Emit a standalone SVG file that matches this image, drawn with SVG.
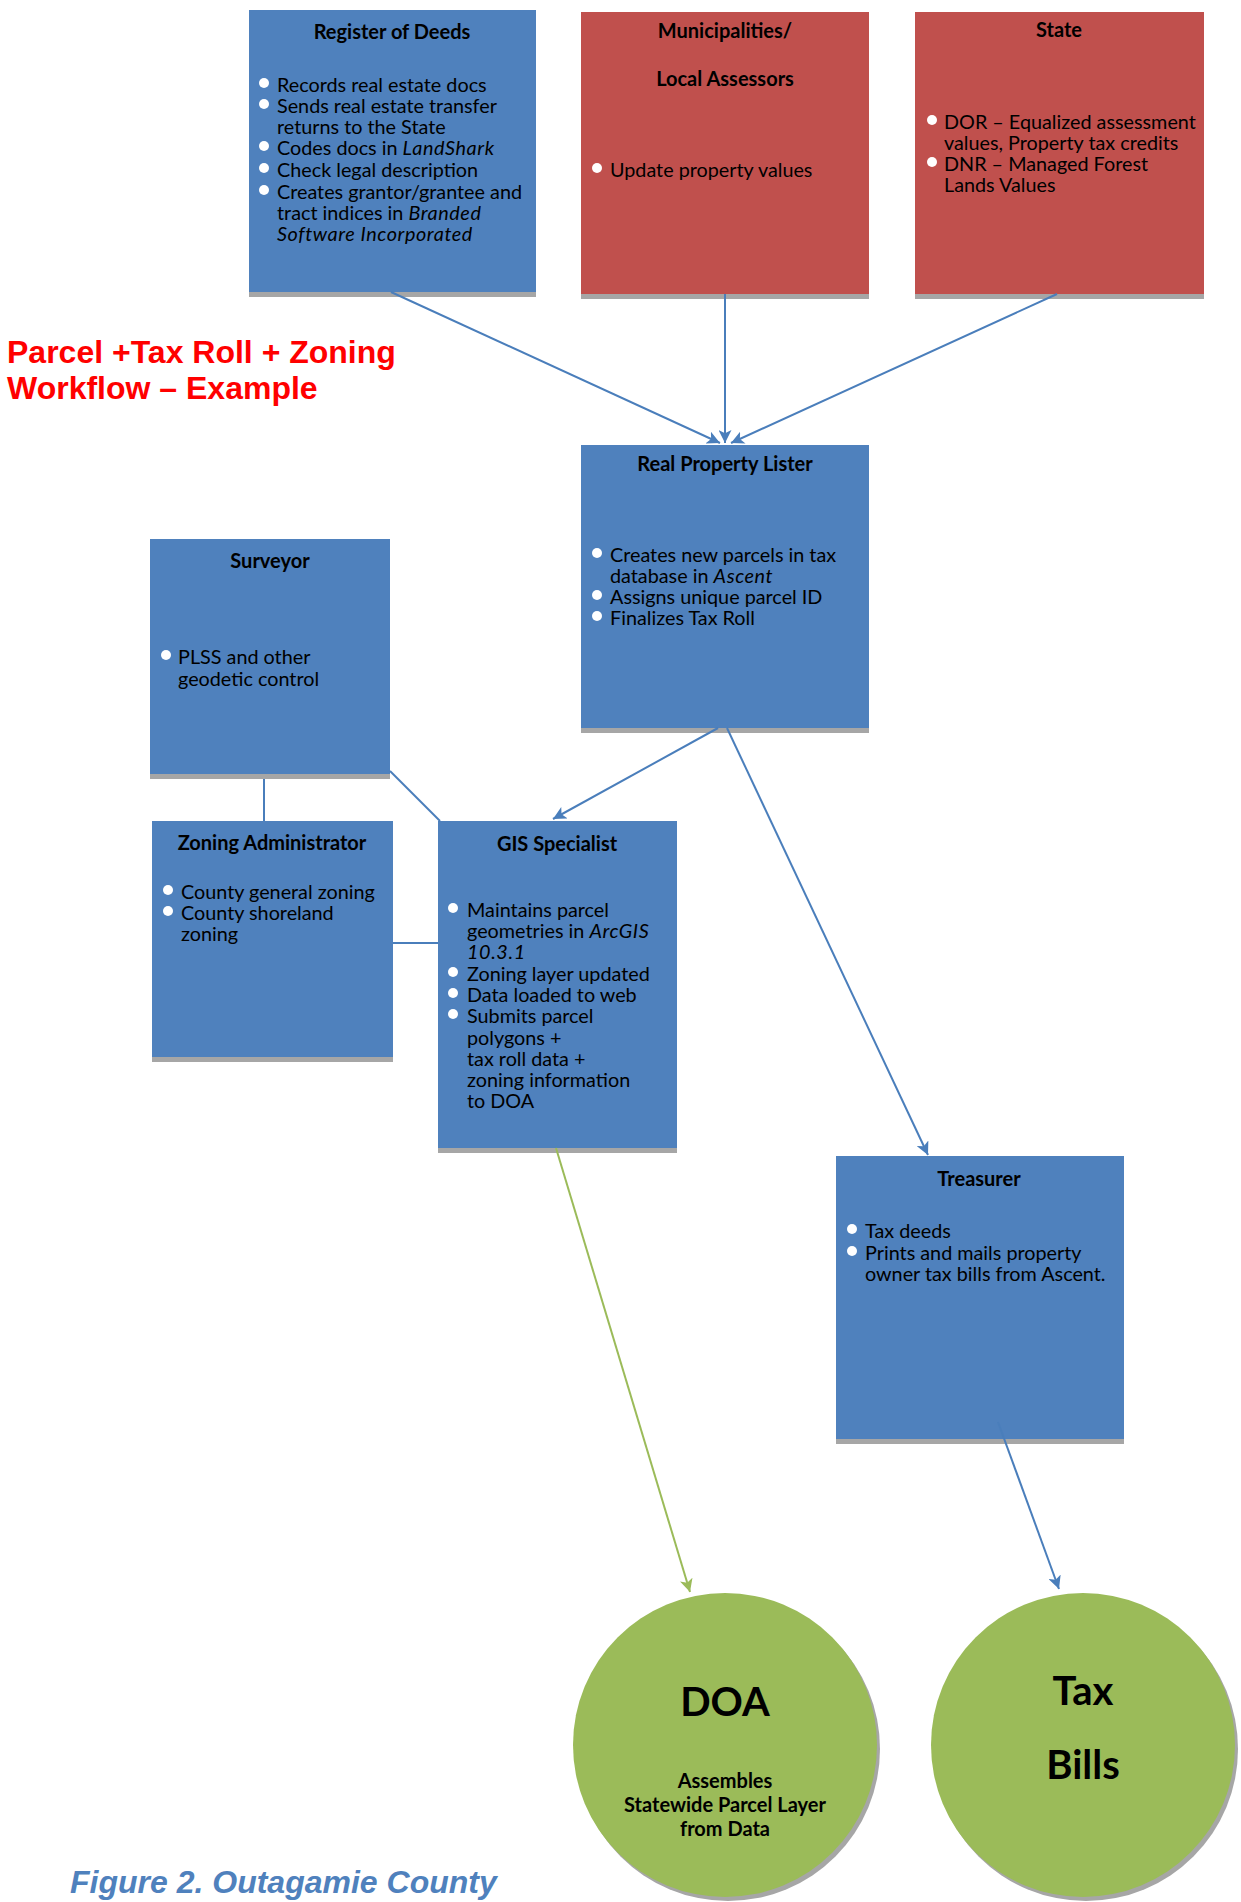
<svg xmlns="http://www.w3.org/2000/svg" width="1241" height="1902" viewBox="0 0 1241 1902">
<defs>
<style>
.blue{fill:#4F81BD}
.red{fill:#C0504D}
.shadow{fill:#A6A6A6}
.green{fill:#9BBB59}
.t{font-family:Lato,"Liberation Sans",sans-serif;font-size:20px;font-weight:bold;fill:#000;text-anchor:middle}
.b{font-family:Lato,"Liberation Sans",sans-serif;font-size:19.8px;fill:#000}
.i{font-style:italic;letter-spacing:0.6px}
.dot{fill:#fff}
.con{stroke:#4A7EBB;stroke-width:2;fill:none}
.cong{stroke:#9BBB59;stroke-width:2;fill:none}
.big{font-family:Lato,"Liberation Sans",sans-serif;font-size:40px;font-weight:bold;fill:#000;text-anchor:middle}
.sm{font-family:Lato,"Liberation Sans",sans-serif;font-size:20px;font-weight:bold;fill:#000;text-anchor:middle}
</style>
<marker id="ab" viewBox="0 0 10 10" refX="10" refY="5" markerUnits="userSpaceOnUse" markerWidth="13" markerHeight="13" orient="auto">
<path d="M0,0 L10,5 L0,10 L2.5,5 z" fill="#4A7EBB"/>
</marker>
<marker id="ag" viewBox="0 0 10 10" refX="10" refY="5" markerUnits="userSpaceOnUse" markerWidth="13" markerHeight="13" orient="auto">
<path d="M0,0 L10,5 L0,10 L2.5,5 z" fill="#9BBB59"/>
</marker>
</defs>
<rect width="1241" height="1902" fill="#fff"/>

<text x="7" y="363" font-family="'Liberation Sans',Arial,sans-serif" font-size="32" font-weight="bold" fill="#FF0000">Parcel +Tax Roll + Zoning</text>
<text x="7" y="399" font-family="'Liberation Sans',Arial,sans-serif" font-size="32" font-weight="bold" fill="#FF0000">Workflow – Example</text>

<g id="register-of-deeds">
<rect class="shadow" x="249" y="15" width="287" height="282"/>
<rect class="blue" x="249" y="10" width="287" height="282"/>
<text class="t" x="392" y="39">Register of Deeds</text>
<circle class="dot" cx="264" cy="83" r="5"/>
<circle class="dot" cx="264" cy="104" r="5"/>
<circle class="dot" cx="264" cy="146" r="5"/>
<circle class="dot" cx="264" cy="168" r="5"/>
<circle class="dot" cx="264" cy="190" r="5"/>
<text class="b" x="277" y="92">Records real estate docs</text>
<text class="b" x="277" y="113">Sends real estate transfer</text>
<text class="b" x="277" y="134">returns to the State</text>
<text class="b" x="277" y="155">Codes docs in <tspan class="i">LandShark</tspan></text>
<text class="b" x="277" y="177">Check legal description</text>
<text class="b" x="277" y="199">Creates grantor/grantee and</text>
<text class="b" x="277" y="220">tract indices in <tspan class="i">Branded</tspan></text>
<text class="b i" x="277" y="241">Software Incorporated</text>
</g>

<g id="municipalities">
<rect class="shadow" x="581" y="17" width="288" height="282"/>
<rect class="red" x="581" y="12" width="288" height="282"/>
<text class="t" x="725" y="38">Municipalities/</text>
<text class="t" x="725" y="86">Local Assessors</text>
<circle class="dot" cx="597" cy="168" r="5"/>
<text class="b" x="610" y="177">Update property values</text>
</g>

<g id="state">
<rect class="shadow" x="915" y="17" width="289" height="282"/>
<rect class="red" x="915" y="12" width="289" height="282"/>
<text class="t" x="1059" y="37">State</text>
<circle class="dot" cx="932" cy="120" r="5"/>
<circle class="dot" cx="932" cy="162" r="5"/>
<text class="b" x="944" y="129">DOR – Equalized assessment</text>
<text class="b" x="944" y="150">values, Property tax credits</text>
<text class="b" x="944" y="171">DNR – Managed Forest</text>
<text class="b" x="944" y="192">Lands Values</text>
</g>

<g id="real-property-lister">
<rect class="shadow" x="581" y="450" width="288" height="283"/>
<rect class="blue" x="581" y="445" width="288" height="283"/>
<text class="t" x="725" y="471">Real Property Lister</text>
<circle class="dot" cx="597" cy="553" r="5"/>
<circle class="dot" cx="597" cy="595" r="5"/>
<circle class="dot" cx="597" cy="616" r="5"/>
<text class="b" x="610" y="562">Creates new parcels in tax</text>
<text class="b" x="610" y="583">database in <tspan class="i">Ascent</tspan></text>
<text class="b" x="610" y="604">Assigns unique parcel ID</text>
<text class="b" x="610" y="625">Finalizes Tax Roll</text>
</g>

<g id="surveyor">
<rect class="shadow" x="150" y="544" width="240" height="235"/>
<rect class="blue" x="150" y="539" width="240" height="235"/>
<text class="t" x="270" y="568">Surveyor</text>
<circle class="dot" cx="166" cy="655" r="5"/>
<text class="b" x="178" y="664">PLSS and other</text>
<text class="b" x="178" y="686">geodetic control</text>
</g>

<g id="zoning-administrator">
<rect class="shadow" x="152" y="826" width="241" height="236"/>
<rect class="blue" x="152" y="821" width="241" height="236"/>
<text class="t" x="272" y="850">Zoning Administrator</text>
<circle class="dot" cx="168" cy="890" r="5"/>
<circle class="dot" cx="168" cy="911" r="5"/>
<text class="b" x="181" y="899">County general zoning</text>
<text class="b" x="181" y="920">County shoreland</text>
<text class="b" x="181" y="941">zoning</text>
</g>

<g id="gis-specialist">
<rect class="shadow" x="438" y="826" width="239" height="327"/>
<rect class="blue" x="438" y="821" width="239" height="327"/>
<text class="t" x="557" y="851">GIS Specialist</text>
<circle class="dot" cx="453" cy="908" r="5"/>
<circle class="dot" cx="453" cy="972" r="5"/>
<circle class="dot" cx="453" cy="993" r="5"/>
<circle class="dot" cx="453" cy="1014" r="5"/>
<text class="b" x="467" y="917">Maintains parcel</text>
<text class="b" x="467" y="938">geometries in <tspan class="i">ArcGIS</tspan></text>
<text class="b i" x="467" y="959">10.3.1</text>
<text class="b" x="467" y="981">Zoning layer updated</text>
<text class="b" x="467" y="1002">Data loaded to web</text>
<text class="b" x="467" y="1023">Submits parcel</text>
<text class="b" x="467" y="1045">polygons +</text>
<text class="b" x="467" y="1066">tax roll data +</text>
<text class="b" x="467" y="1087">zoning information</text>
<text class="b" x="467" y="1108">to DOA</text>
</g>

<g id="treasurer">
<rect class="shadow" x="836" y="1161" width="288" height="283"/>
<rect class="blue" x="836" y="1156" width="288" height="283"/>
<text class="t" x="979" y="1186">Treasurer</text>
<circle class="dot" cx="852" cy="1229" r="5"/>
<circle class="dot" cx="852" cy="1251" r="5"/>
<text class="b" x="865" y="1238">Tax deeds</text>
<text class="b" x="865" y="1260">Prints and mails property</text>
<text class="b" x="865" y="1281">owner tax bills from Ascent.</text>
</g>

<g id="doa">
<circle class="shadow" cx="728" cy="1749" r="152"/>
<circle class="green" cx="725" cy="1745" r="152"/>
<text class="big" x="725" y="1716">DOA</text>
<text class="sm" x="725" y="1788">Assembles</text>
<text class="sm" x="725" y="1812">Statewide Parcel Layer</text>
<text class="sm" x="725" y="1836">from Data</text>
</g>

<g id="tax-bills">
<circle class="shadow" cx="1086" cy="1749" r="152"/>
<circle class="green" cx="1083" cy="1745" r="152"/>
<text class="big" x="1083" y="1705">Tax</text>
<text class="big" x="1083" y="1779">Bills</text>
</g>

<g id="connectors">
<line class="con" x1="391" y1="292" x2="720" y2="443" marker-end="url(#ab)"/>
<line class="con" x1="725" y1="294" x2="725" y2="443" marker-end="url(#ab)"/>
<line class="con" x1="1057" y1="294" x2="731" y2="443" marker-end="url(#ab)"/>
<line class="con" x1="718" y1="728" x2="553" y2="819" marker-end="url(#ab)"/>
<line class="con" x1="727" y1="728" x2="928" y2="1155" marker-end="url(#ab)"/>
<line class="con" x1="264" y1="779" x2="264" y2="821"/>
<line class="con" x1="390" y1="771" x2="440" y2="821"/>
<line class="con" x1="393" y1="943" x2="438" y2="943"/>
<line class="cong" x1="556" y1="1148" x2="690" y2="1592" marker-end="url(#ag)"/>
<line class="con" x1="998" y1="1422" x2="1059" y2="1589" marker-end="url(#ab)"/>
</g>

<text x="70" y="1893" font-family="'Liberation Sans',Arial,sans-serif" font-size="32" font-weight="bold" font-style="italic" fill="#4F81BD">Figure 2. Outagamie County</text>
</svg>
